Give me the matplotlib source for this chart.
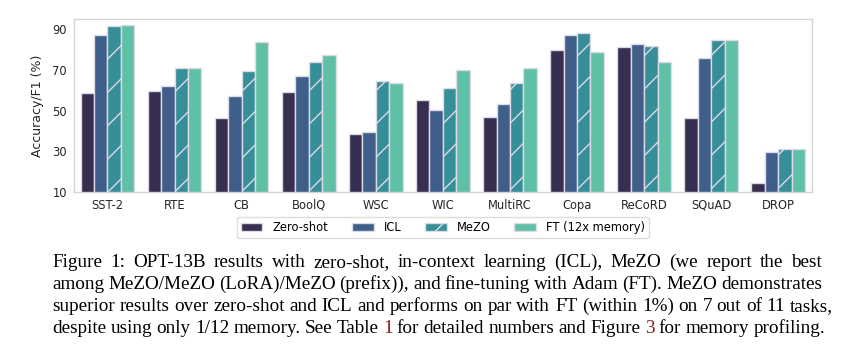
import matplotlib
matplotlib.use("Agg")
import matplotlib.pyplot as plt
import numpy as np

tasks = ["SST-2", "RTE", "CB", "BoolQ", "WSC", "WIC", "MultiRC", "Copa", "ReCoRD", "SQuAD", "DROP"]
zero_shot = [58.8, 59.6, 46.4, 59.0, 38.5, 55.0, 46.9, 80.0, 81.2, 46.2, 14.6]
icl = [87.0, 62.1, 57.1, 66.9, 39.4, 50.5, 53.1, 87.0, 82.5, 75.9, 29.6]
mezo = [91.4, 70.8, 69.6, 73.8, 64.4, 61.1, 63.6, 88.0, 81.7, 84.7, 31.1]
ft = [92.0, 70.8, 83.9, 77.1, 63.5, 70.1, 71.1, 79.0, 74.1, 84.9, 31.3]
series_names = ["Zero-shot", "ICL", "MeZO", "FT (12x memory)"]
colors = ["#382e4f", "#3f5f8a", "#368e98", "#5fc0a6"]
hatches = ["", "", "/", ""]
yticks = [10, 30, 50, 70, 90]

caption_lines = [
    "Figure 1: OPT-13B results with zero-shot, in-context learning (ICL), MeZO (we report the best",
    "among MeZO/MeZO (LoRA)/MeZO (prefix)), and fine-tuning with Adam (FT). MeZO demonstrates",
    "superior results over zero-shot and ICL and performs on par with FT (within 1%) on 7 out of 11 tasks,",
    "despite using only 1/12 memory. See Table 1 for detailed numbers and Figure 3 for memory profiling.",
]
red_words = {(3, 7), (3, 13)}  # (line, word index) for the reference numbers

plt.rcParams["hatch.color"] = "white"
plt.rcParams["hatch.linewidth"] = 1.0

fig = plt.figure(figsize=(8.65, 3.5), dpi=100)
ax = fig.add_axes([0.0855, 0.4514, 0.853, 0.4943])

x = np.arange(len(tasks))
width = 0.2
for i, (name, vals) in enumerate(zip(series_names, [zero_shot, icl, mezo, ft])):
    ax.bar(x + (i - 1.5) * width, vals, width, label=name, color=colors[i],
           hatch=hatches[i], edgecolor="#dcdae6", linewidth=1.0)

ax.set_xlim(-0.5, len(tasks) - 0.5)
ax.set_ylim(10, 95)
ax.set_yticks(yticks)
ax.set_xticks(x)
ax.set_xticklabels(tasks)
ax.tick_params(length=0, labelsize=8.3, colors="#262626", pad=5)
ax.set_ylabel("Accuracy/F1 (%)", fontsize=9, color="#262626", labelpad=6)
for s in ax.spines.values():
    s.set_color("#d5d5d5")
    s.set_linewidth(1.0)

leg = ax.legend(loc="upper center", bbox_to_anchor=(0.5, -0.11), ncol=4, fontsize=8.3,
                frameon=True, handlelength=1.9, handletextpad=0.9, columnspacing=2.0,
                borderpad=0.35)
leg.get_frame().set_edgecolor("#d5d5d5")

# caption, justified line by line
fig.canvas.draw()
renderer = fig.canvas.get_renderer()
cap_font = dict(family="Liberation Serif")


def text_width(s, size):
    t = fig.text(0, 0, s, fontsize=size, **cap_font)
    w = t.get_window_extent(renderer).width
    t.remove()
    return w


# pick the size so the longest line fills its width with normal spacing
size = 11.0 * 781 / text_width(caption_lines[2], 11.0)
space = text_width("a a", size) - text_width("aa", size)

x0 = 52
line_ends = [822, 822, 833, 825]
baselines = [267, 289, 311, 333]
for li, line in enumerate(caption_lines):
    words = line.split(" ")
    texts = []
    for wi, w in enumerate(words):
        c = "#8b1a1a" if (li, wi) in red_words else "black"
        t = fig.text(0, 0, w, fontsize=size, color=c, va="baseline", ha="left", **cap_font)
        texts.append(t)
    widths = [t.get_window_extent(renderer).width for t in texts]
    gap = (line_ends[li] - x0 - sum(widths)) / (len(words) - 1)
    px = x0
    for t, w in zip(texts, widths):
        t.set_position((px / 865, 1 - baselines[li] / 350))
        px += w + gap

fig.savefig("out.png", dpi=100)
